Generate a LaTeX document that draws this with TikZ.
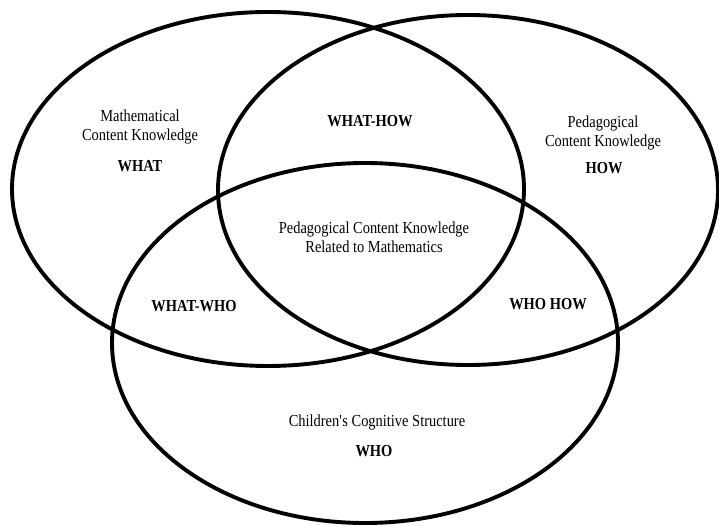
\documentclass[tikz,border=0pt]{standalone}
\usepackage{fontspec}
\setmainfont{Liberation Serif}[FakeStretch=0.86]
\begin{document}
\begin{tikzpicture}[x=1pt,y=-1pt,
  ring/.style={draw=black,line width=3.9pt},
  lbl/.style={inner sep=0pt,align=center,font=\fontsize{16.8}{19}\selectfont},
  blbl/.style={inner sep=0pt,align=center,font=\fontsize{16.8}{19}\selectfont\bfseries}]
\useasboundingbox (0,0) rectangle (719,526);
\draw[ring] (268,189) ellipse [x radius=256, y radius=177];
\draw[ring] (468,190) ellipse [x radius=250, y radius=175];
\draw[ring] (365,343) ellipse [x radius=253, y radius=180];
\node[lbl] (mck) at (140,127) {Mathematical\\Content Knowledge};
\node[blbl] (what) at (140,166) {WHAT};
\node[blbl] (whathow) at (370,121) {WHAT-HOW};
\node[lbl] (pck) at (603,133) {Pedagogical\\Content Knowledge};
\node[blbl] (how) at (604,168) {HOW};
\node[lbl] (pckm) at (374,237) {Pedagogical Content Knowledge\\Related to Mathematics};
\node[blbl] (whatwho) at (194,306) {WHAT-WHO};
\node[blbl] (whohow) at (548,304) {WHO HOW};
\node[lbl] (ccs) at (377,422) {Children\textquotesingle s Cognitive Structure};
\node[blbl] (who) at (374,451) {WHO};
\end{tikzpicture}
\end{document}
